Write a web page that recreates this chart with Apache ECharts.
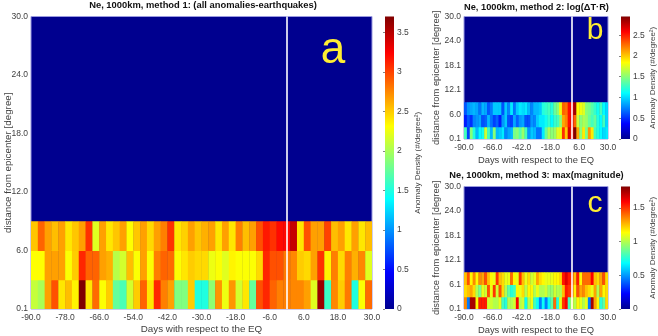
<!DOCTYPE html>
<html><head><meta charset="utf-8">
<style>html,body{margin:0;padding:0;background:#fff}#c{width:658px;height:336px}</style>
<script src="https://cdn.jsdelivr.net/npm/echarts@6/dist/echarts.min.js"></script>
</head><body><div id="c"></div>
<script>
const aRow0=[2.1,2.0,2.66,2.95,2.4,2.55,2.35,3.7,2.4,2.85,2.3,2.5,1.75,1.65,2.15,2.5,2.88,2.4,3.1,2.78,2.66,1.85,1.85,2.5,1.5,1.5,1.9,2.7,2.25,2.7,2.15,2.4,1.75,2.95,3.1,2.88,2.78,2.78,2.75,2.75,2.66,2.2,3.6,1.6,2.75,2.5,2.8,1.5,2.3,2.85];
const aRow1=[2.31,2.31,2.66,2.66,2.66,2.3,2.5,3.1,2.88,2.88,2.66,2.6,2.05,2.15,2.55,2.3,2.66,2.3,2.78,2.88,2.85,2.3,2.4,2.5,2.45,2.45,2.25,2.3,2.2,2.35,2.3,2.3,2.3,2.45,3.1,2.95,2.95,2.8,2.75,2.5,2.45,2.66,3.06,2.35,2.78,2.45,2.78,2.6,2.75,2.2];
const aRow2=[2.52,2.88,2.66,2.55,2.66,2.4,2.52,2.66,3.06,2.2,2.66,2.4,2.52,2.66,2.31,2.52,2.66,2.45,2.66,2.78,3.06,2.4,2.48,2.66,2.52,2.6,2.66,2.4,2.66,2.4,2.78,2.55,2.66,2.95,3.15,3.06,3.2,3.2,3.45,2.4,2.94,2.66,2.66,3.0,2.55,2.66,2.4,2.66,2.4,2.55];
const bRow0=[1.3,.55,1.5,1.2,.9,1.1,1.15,1.7,1.3,.9,1.5,.9,.95,1.05,.75,.85,.9,1.45,1.5,1.35,1.55,1.3,.8,.95,.9,.7,.7,1.05,1.4,1.6,1.5,1.55,1.75,1.8,2.45,2.0,2.7,2.5,2.95,2.1,1.5,1.9,1.45,2.15,1.9,1.3,1.2,1.1,1.0,1.05];
const bRow1=[.45,.62,.5,.75,.8,.85,.6,.65,.9,.7,.55,.65,.45,.8,.95,.6,.55,.85,.65,.8,.85,.6,.6,.8,.75,.95,1.05,1.05,1.15,1.25,1.1,1.25,1.3,1.5,2.1,2.2,2.55,2.65,2.3,1.7,1.5,1.6,1.55,1.4,1.3,1.4,1.2,1.1,1.3,1.0];
const bRow2=[.62,.8,.85,.9,.85,.7,.9,.85,.62,.72,.95,.95,.95,.6,.95,.75,1.05,.7,.95,1.05,1.0,1.05,.9,.75,.9,.9,.95,1.2,1.25,1.3,1.2,1.4,1.5,1.8,2.3,2.25,2.55,2.6,2.85,1.85,1.8,1.75,1.5,1.45,1.35,1.25,1.15,1.3,1.1,1.0];
const cRow0=[1.35,.45,1.75,1.75,1.15,1.55,1.55,1.55,1.05,1.05,1.0,1.0,1.1,.8,.75,1.0,1.0,1.05,1.6,1.0,1.05,.7,1.0,1.1,.8,.7,.45,.7,.45,.7,.85,1.4,.75,1.1,1.5,1.6,.8,1.1,1.0,1.15,1.1,1.0,1.1,.45,1.75,1.3,1.15,.75,.85,1.2];
const cRow1=[1.2,1.25,1.3,1.2,1.0,.9,1.1,1.05,1.45,1.1,1.5,1.05,1.45,1.2,1.0,.85,.75,.8,1.15,1.1,1.2,1.0,1.15,1.15,1.0,1.1,1.0,1.0,1.05,.95,.95,1.05,1.0,1.0,1.25,1.55,1.5,1.45,1.15,1.45,1.3,1.35,1.25,1.2,1.1,1.3,1.0,1.3,1.15,1.2];
const cRow2=[1.25,1.45,1.15,1.35,1.15,1.35,1.3,1.45,1.25,1.15,1.1,1.5,1.25,1.2,1.1,1.1,1.4,1.15,1.1,1.5,1.25,1.1,1.2,1.05,1.1,1.3,1.2,1.15,1.1,1.1,1.1,1.15,1.15,1.2,1.55,1.65,1.55,1.5,1.25,1.55,1.15,1.4,1.4,1.4,1.6,1.25,1.2,1.3,1.45,1.2];
const dayBinWidth=2.4, rowHeight=3;
const yTicksA=['0.1','6.0','12.0','18.0','24.0','30.0'];
const yTicksB=['0.1','6.0','12.1','18.1','24.0','30.0'];
const yTicksC=['0.1','6.1','12.1','18.1','24.0','30.0'];
const titles=['Ne, 1000km, method 1: (all anomalies-earthquakes)','Ne, 1000km, method 2: log(\u0394T\u00b7R)','Ne, 1000km, method 3: max(magnitude)'];
const maxima=[3.7,2.95,1.82];
const letters=['a','b','c'];
const jet=['#00008f','#0000ff','#0080ff','#00ffff','#80ff80','#ffff00','#ff8000','#ff0000','#800000'];
const FONT='"Liberation Sans", Arial, sans-serif', GREY='#404040';

const panels=[
 {rows:[aRow0,aRow1,aRow2],yT:yTicksA,xI:12,g:{left:31,top:16.5,width:341,height:292.5},bar:{left:385,width:9},nameGap:20,yGap:18,ttl:[203,1,9.4],let:[333,51,44],xGap:15,nf:9.8},
 {rows:[bRow0,bRow1,bRow2],yT:yTicksB,xI:24,g:{left:464,top:16.5,width:144,height:122.5},bar:{left:621,width:9},nameGap:18,yGap:23,ttl:[536.5,2.5,9.25],let:[595,31,30],xGap:17,nf:9.4},
 {rows:[cRow0,cRow1,cRow2],yT:yTicksC,xI:24,g:{left:464,top:186.5,width:144,height:122.5},bar:{left:621,width:9},nameGap:18,yGap:23,ttl:[536.5,171,9.25],let:[595,204,30],xGap:17,nf:9.4}
];
const grids=[],xAxes=[],yAxes=[],series=[],vms=[],graphic=[];
const cellRender=(p,api)=>{
  const a=api.coord([api.value(0),api.value(1)]),b=api.coord([api.value(0)+dayBinWidth,api.value(1)+rowHeight]);
  return {type:'rect',shape:{x:a[0],y:b[1],width:b[0]-a[0]+.4,height:a[1]-b[1]+.4},style:{fill:api.visual('color')}};
};
panels.forEach((P,i)=>{
  const lab={fontFamily:FONT,fontSize:8.5,color:GREY};
  grids.push({...P.g,outerBoundsMode:'none',show:true,borderColor:'#9a9ae0',borderWidth:1,backgroundColor:'#00008f'});
  xAxes.push({gridIndex:grids.length-1,type:'value',min:-90,max:30,interval:P.xI,
    axisLine:{show:false},splitLine:{show:false},axisTick:{show:false},
    axisLabel:{...lab,margin:4,hideOverlap:false,formatter:v=>v.toFixed(1)},
    name:'Days with respect to the EQ',nameLocation:'middle',nameGap:P.xGap,nameMoveOverlap:false,nameTextStyle:{fontFamily:FONT,fontSize:P.nf,color:GREY}});
  yAxes.push({gridIndex:grids.length-1,type:'value',min:0,max:30,interval:6,
    axisLine:{show:false},splitLine:{show:false},axisTick:{show:false},
    axisLabel:{...lab,margin:3,formatter:v=>P.yT[Math.round(v/6)]},
    name:'distance from epicenter [degree]',nameLocation:'middle',nameGap:P.yGap,nameMoveOverlap:false,nameTextStyle:{fontFamily:FONT,fontSize:P.nf,color:GREY}});
  const data=[];
  P.rows.forEach((r,ri)=>r.forEach((v,ci)=>data.push([-90+ci*dayBinWidth,ri*rowHeight,v])));
  const si=series.length;
  series.push({type:'custom',xAxisIndex:grids.length-1,yAxisIndex:grids.length-1,coordinateSystem:'cartesian2d',
    data,renderItem:cellRender,encode:{x:0,y:1},silent:true,clip:true,animation:false,
    markLine:{silent:true,symbol:'none',animation:false,label:{show:false},lineStyle:{color:'#fff',width:1.6,type:'solid'},data:[{xAxis:0}]}});
  vms.push({show:false,type:'continuous',seriesIndex:si,dimension:2,min:0,max:maxima[i],inRange:{color:jet}});

  grids.push({...P.bar,outerBoundsMode:'none',top:P.g.top,height:P.g.height});
  const g2=grids.length-1;
  xAxes.push({gridIndex:g2,type:'value',min:0,max:1,show:false});
  yAxes.push({gridIndex:g2,type:'value',min:0,max:maxima[i],interval:.5,position:'right',
    axisLine:{show:false},splitLine:{show:false},axisTick:{show:true,inside:true,length:2,lineStyle:{color:'#333',width:.6}},
    axisLabel:{...lab,margin:3,showMaxLabel:false,formatter:v=>String(v)},
    name:'Anomaly Density (#/degree\u00b2)',nameLocation:'middle',nameGap:P.nameGap,nameRotate:90,nameTextStyle:{fontFamily:FONT,fontSize:8,color:GREY}});
  series.push({type:'custom',xAxisIndex:g2,yAxisIndex:g2,data:[[0,0,1,maxima[i]]],silent:true,animation:false,encode:{x:0,y:1},z:1,
    renderItem:(p,api)=>{const a=api.coord([0,0]),b=api.coord([1,maxima[i]]);
      return {type:'rect',shape:{x:a[0],y:b[1],width:b[0]-a[0],height:a[1]-b[1]},
        style:{fill:new echarts.graphic.LinearGradient(0,1,0,0,jet.map((c,k)=>({offset:k/(jet.length-1),color:c})))}};}});
  graphic.push({type:'text',x:P.ttl[0],y:P.ttl[1],style:{text:titles[i],font:'bold '+P.ttl[2]+'px '+FONT,fill:'#111',textAlign:'center',textVerticalAlign:'top'},z:50});
  graphic.push({type:'text',x:P.let[0],y:P.let[1],style:{text:letters[i],font:P.let[2]+'px '+FONT,fill:'#ffee33',textAlign:'center',textVerticalAlign:'middle'},z:50});
});
const chart=echarts.init(document.getElementById('c'),null,{renderer:'canvas'});
chart.setOption({animation:false,backgroundColor:'#fff',grid:grids,xAxis:xAxes,yAxis:yAxes,series,visualMap:vms,graphic});
</script></body></html>
